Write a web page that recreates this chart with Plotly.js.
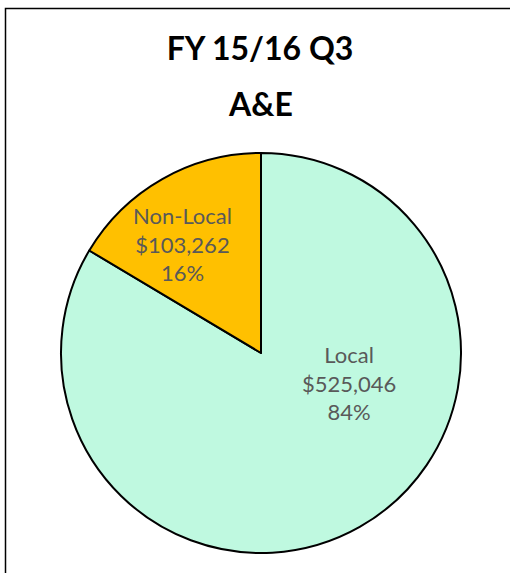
<!DOCTYPE html>
<html>
<head>
<meta charset="utf-8">
<script src="https://cdn.plot.ly/plotly-3.0.1.min.js"></script>
<style>
html, body { margin: 0; padding: 0; background: #ffffff; }
#chart { width: 510px; height: 573px; }
</style>
</head>
<body>
<div id="chart"></div>
<script>
const titleLines = ["FY 15/16 Q3", "A&amp;E"];
const categories = ["Local", "Non-Local"];
const amounts = [525046, 103262];
const sliceColors = ["#bff9e0", "#ffc000"];

const fmt = v => "$" + v.toLocaleString("en-US");
const total = amounts.reduce((a, b) => a + b, 0);
const labelsText = categories.map((c, i) =>
  c + "<br>" + fmt(amounts[i]) + "<br>" + Math.round(amounts[i] / total * 100) + "%");

const W = 510, H = 573;
const cx = 261, cy = 353, r = 200;
const labelPos = [[349, 383], [182, 244]];
const FONT = "Lato, 'Open Sans', sans-serif";

const trace = {
  type: "pie",
  labels: categories,
  values: amounts,
  textinfo: "none",
  hoverinfo: "none",
  sort: false,
  direction: "clockwise",
  rotation: 0,
  marker: { colors: sliceColors, line: { color: "#000000", width: 2 } },
  domain: { x: [(cx - r) / W, (cx + r) / W], y: [1 - (cy + r) / H, 1 - (cy - r) / H] },
  showlegend: false
};

const annotations = labelsText.map((t, i) => ({
  text: t, xref: "paper", yref: "paper",
  x: labelPos[i][0] / W, y: 1 - labelPos[i][1] / H,
  xanchor: "center", yanchor: "middle", showarrow: false,
  font: { family: FONT, size: 22, color: "#595959" }
}));
annotations.push({
  text: "<b>" + titleLines[1] + "</b>", xref: "paper", yref: "paper",
  x: 260 / W, y: 1 - 103 / H, xanchor: "center", yanchor: "middle", showarrow: false,
  font: { family: FONT, size: 32, color: "#000000" }
});

const layout = {
  width: W, height: H,
  margin: { l: 0, r: 0, t: 0, b: 0 },
  paper_bgcolor: "#ffffff",
  title: {
    text: "<b>" + titleLines[0] + "</b>",
    font: { family: FONT, size: 32, color: "#000000" },
    x: 260 / W, xanchor: "center",
    y: 1 - 49 / H, yanchor: "middle"
  },
  annotations: annotations,
  shapes: [{
    type: "rect", xref: "paper", yref: "paper",
    x0: 5.5 / W, x1: 1.05, y0: -0.05, y1: 1 - 8.5 / H,
    line: { color: "#000000", width: 1.5 }, fillcolor: "rgba(0,0,0,0)", layer: "below"
  }],
  showlegend: false
};

Plotly.newPlot("chart", [trace], layout, { displayModeBar: false, staticPlot: true });
</script>
</body>
</html>
